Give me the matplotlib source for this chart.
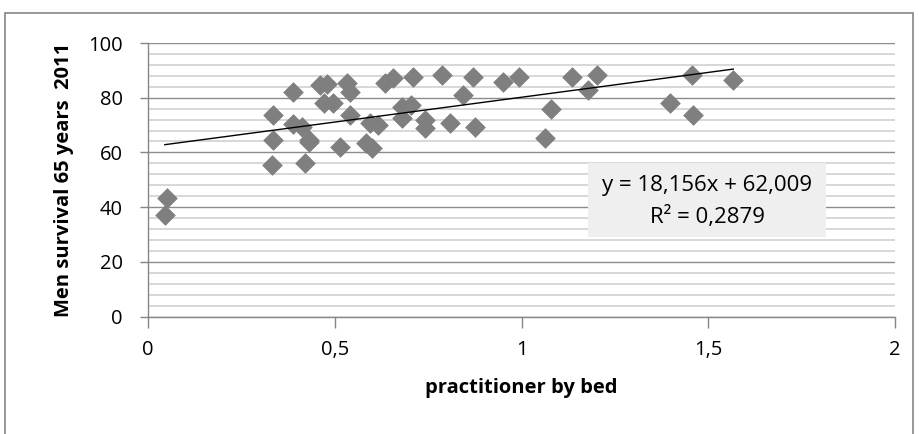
import matplotlib
matplotlib.use("Agg")
import matplotlib.pyplot as plt
from matplotlib.ticker import MultipleLocator, FuncFormatter
from matplotlib.patches import Rectangle
import numpy as np

# data
practitioner_by_bed = [0.045, 0.05, 0.331, 0.336, 0.336, 0.43, 0.389, 0.389, 0.411,
                       0.42, 0.43, 0.46, 0.47, 0.478, 0.496, 0.514, 0.532, 0.541,
                       0.541, 0.585, 0.6, 0.594, 0.617, 0.635, 0.655, 0.68, 0.68,
                       0.705, 0.71, 0.742, 0.742, 0.786, 0.809, 0.844, 0.871, 0.876,
                       0.951, 0.992, 1.063, 1.078, 1.134, 1.179, 1.201, 1.398, 1.456,
                       1.46, 1.567]
men_survival = [37.1, 43.2, 55.3, 64.5, 73.5, 63.9, 82.2, 70.3, 69.4,
                56.2, 64.5, 84.8, 78.2, 85.0, 78.2, 62.1, 85.3, 82.2,
                73.8, 63.3, 61.5, 70.6, 70.0, 85.5, 87.3, 72.5, 76.7,
                77.5, 87.4, 71.8, 68.8, 88.3, 70.6, 81.0, 87.7, 69.4,
                85.9, 87.7, 65.2, 75.8, 87.7, 82.8, 88.3, 78.0, 88.3,
                73.7, 86.5]
slope = 18.156
intercept = 62.009
r_squared = 0.2879
x_ticks = [0, 0.5, 1, 1.5, 2]
y_ticks = [0, 20, 40, 60, 80, 100]

fig = plt.figure(figsize=(9.19, 4.34), dpi=100)
plt.rcParams['font.family'] = ['Open Sans', 'DejaVu Sans']

# outer chart border
fig.patches.append(Rectangle((5/919, -0.01), 908/919, 1 - 13/434 + 0.01,
                             transform=fig.transFigure, fill=False,
                             edgecolor='#868686', linewidth=1.2))

ax = fig.add_axes([148/919, 1 - 316.5/434, (895 - 148)/919, (316.5 - 43)/434])
ax.set_xlim(0, 2)
ax.set_ylim(0, 100)

ax.yaxis.set_major_locator(MultipleLocator(20))
ax.yaxis.set_minor_locator(MultipleLocator(4))
ax.xaxis.set_major_locator(MultipleLocator(0.5))
ax.grid(which='minor', axis='y', color='#D4D4D4', linewidth=1.3)
ax.grid(which='major', axis='y', color='#8C8C8C', linewidth=1.0)
ax.set_axisbelow(True)

for s in ['top', 'right']:
    ax.spines[s].set_visible(False)
for s in ['left', 'bottom']:
    ax.spines[s].set_color('#868686')
    ax.spines[s].set_linewidth(1.0)

ax.tick_params(axis='both', which='major', direction='out', color='#868686',
               length=6, width=1.0, labelsize=14.5, labelcolor='#000000')
ax.tick_params(axis='x', which='major', length=8, pad=9)
ax.tick_params(axis='y', which='minor', left=False)
ax.tick_params(axis='y', pad=12)

fmt = FuncFormatter(lambda v, p: ('%g' % v).replace('.', ','))
ax.xaxis.set_major_formatter(fmt)
ax.set_xticks(x_ticks)
ax.set_yticks(y_ticks)

ax.scatter(practitioner_by_bed, men_survival, marker='D', s=100,
           color='#7F7F7F', edgecolors='#7F7F7F', linewidths=0.5, zorder=3)

xs = np.array([min(practitioner_by_bed), max(practitioner_by_bed)])
ax.plot(xs, slope * xs + intercept, color='black', linewidth=1.0, zorder=4)

ax.set_xlabel('practitioner by bed', fontsize=14.5, fontweight='bold', labelpad=13)
ax.set_ylabel('Men survival 65 years  2011', fontsize=14.5, fontweight='bold', labelpad=10)

# equation box
box_l, box_r, box_t, box_b = 588, 826, 163, 237
fig.patches.append(Rectangle((box_l/919, 1 - box_b/434), (box_r - box_l)/919,
                             (box_b - box_t)/434, transform=fig.transFigure,
                             facecolor='#EFEFEF', edgecolor='none', zorder=5))
eq = 'y = %sx + %s' % (('%.3f' % slope).replace('.', ','), ('%.3f' % intercept).replace('.', ','))
fig.text(707/919, 1 - 185/434, eq, ha='center', va='center', fontsize=16, zorder=6)
fig.text(707/919, 1 - 217/434, 'R² = ' + ('%.4f' % r_squared).replace('.', ','),
         ha='center', va='center', fontsize=16, zorder=6)

fig.savefig('out.png', dpi=100)
